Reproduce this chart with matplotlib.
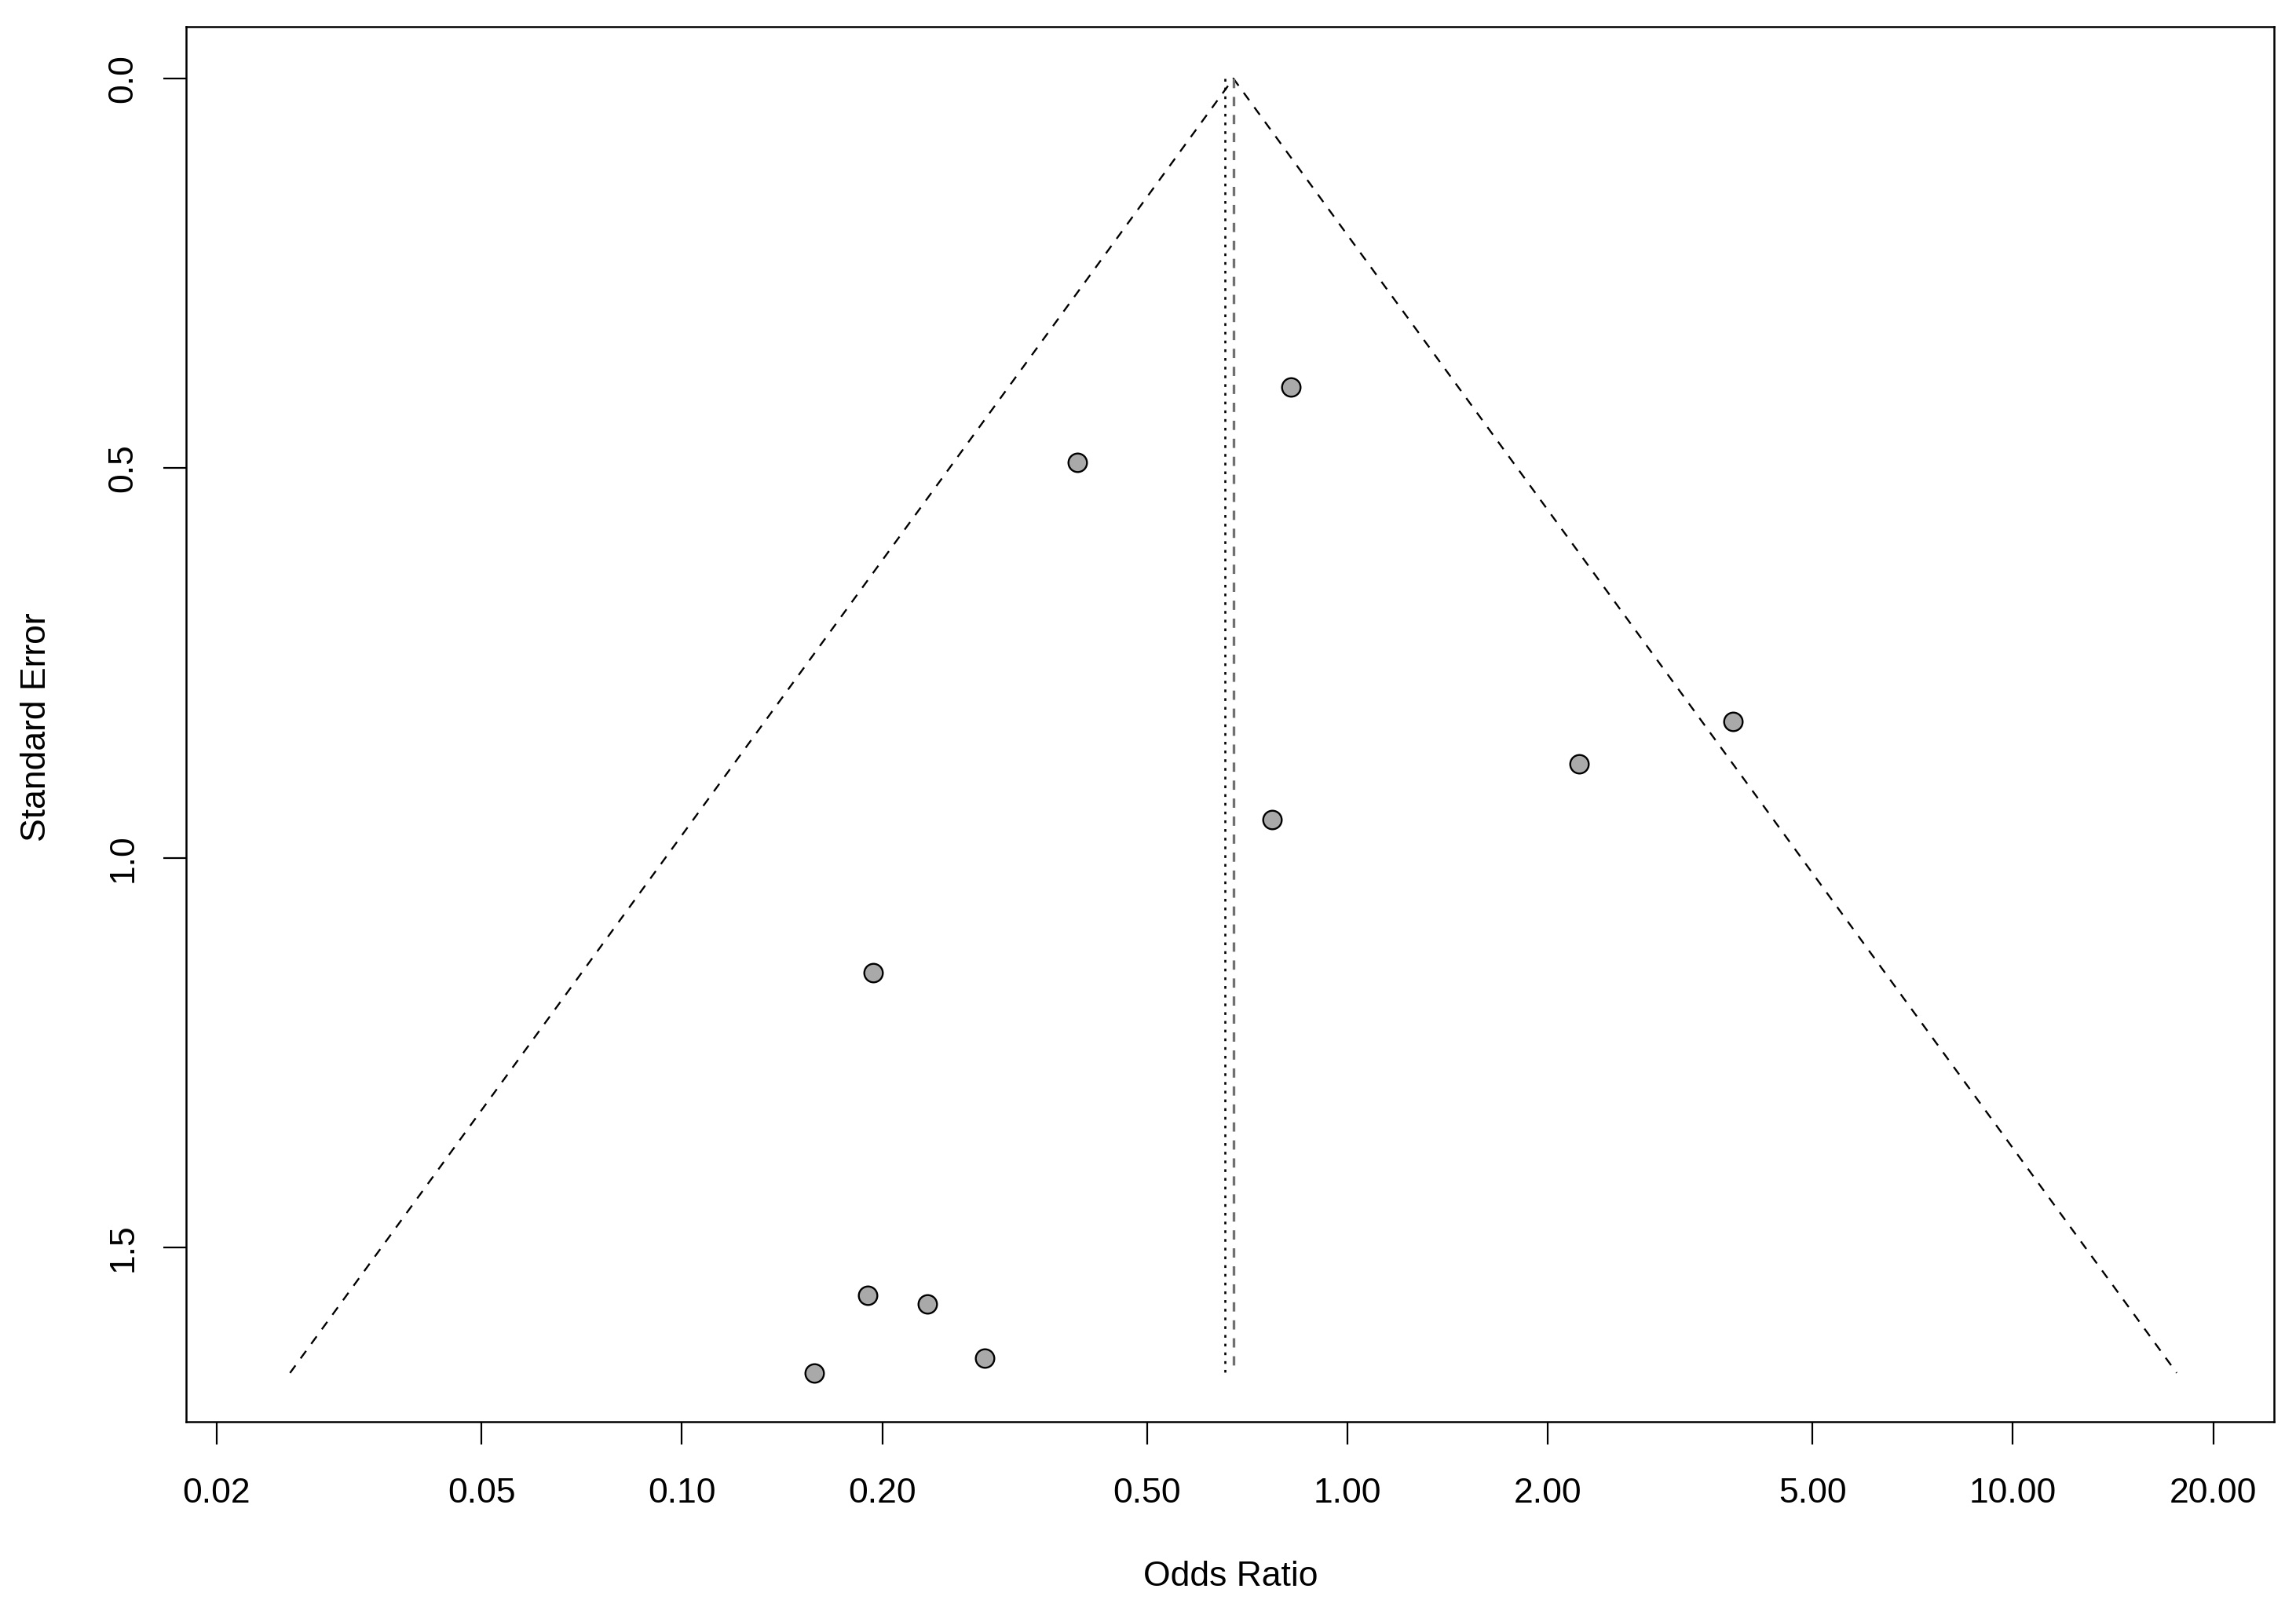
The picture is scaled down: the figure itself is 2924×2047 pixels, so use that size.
import numpy as np
import matplotlib
matplotlib.use("Agg")
import matplotlib.pyplot as plt

plt.rcParams['font.family'] = ['Liberation Sans', 'DejaVu Sans']
plt.rcParams['lines.scale_dashes'] = False

# Data
odds_ratio = [0.822, 0.393, 3.80, 2.23, 0.770, 0.194, 0.190, 0.234, 0.285, 0.158]
std_error = [0.396, 0.493, 0.825, 0.879, 0.951, 1.147, 1.561, 1.572, 1.642, 1.661]
pooled_common = 0.674   # dashed reference (funnel centre)
pooled_random = 0.654   # dotted reference
x_ticks = [0.02, 0.05, 0.10, 0.20, 0.50, 1.00, 2.00, 5.00, 10.00, 20.00]
x_tick_labels = ["0.02", "0.05", "0.10", "0.20", "0.50", "1.00", "2.00", "5.00", "10.00", "20.00"]
y_ticks = [0.0, 0.5, 1.0, 1.5]
y_tick_labels = ["0.0", "0.5", "1.0", "1.5"]

W, H = 2924, 2047
fig = plt.figure(figsize=(W / 100, H / 100), dpi=100)
left, right, top, bottom = 237, 2896, 34, 1811
ax = fig.add_axes([left / W, 1 - bottom / H, (right - left) / W, (bottom - top) / H])

ax.set_xscale('log')
ax.set_xlim(0.01799, 24.68)
ax.set_ylim(1.7236, -0.0665)

maxse = max(std_error)
c = np.log(pooled_common)
z = 1.965
fx = np.exp([c - z * maxse, c, c + z * maxse])
fy = [maxse, 0.0, maxse]
ax.plot(fx, fy, color='black', lw=1.7, dashes=(8.5, 8))
ax.plot([pooled_common, pooled_common], [0, maxse], color='#707070', lw=2.4, dashes=(8.5, 8))
ax.plot([pooled_random, pooled_random], [0, maxse], color='black', lw=1.9, dashes=(2.5, 5.5))

ax.plot(odds_ratio, std_error, linestyle='none', marker='o', markersize=17,
        markerfacecolor='#a9a9a9', markeredgecolor='black', markeredgewidth=1.7, zorder=5)

ax.minorticks_off()
ax.set_xticks(x_ticks)
ax.set_xticklabels(x_tick_labels)
ax.set_yticks(y_ticks)
ax.set_yticklabels(y_tick_labels, rotation=90, va='center')
ax.tick_params(axis='both', length=21, width=1.6, labelsize=32, direction='out')
ax.tick_params(axis='x', pad=30)
ax.tick_params(axis='y', pad=22)
for s in ax.spines.values():
    s.set_linewidth(1.8)

fig.text(1567 / W, 1 - 2008 / H, "Odds Ratio", ha='center', va='center', fontsize=32)
fig.text(47 / W, 1 - 926 / H, "Standard Error", ha='center', va='center', rotation=90, fontsize=32)

fig.savefig("out.png", dpi=100, facecolor='white')
